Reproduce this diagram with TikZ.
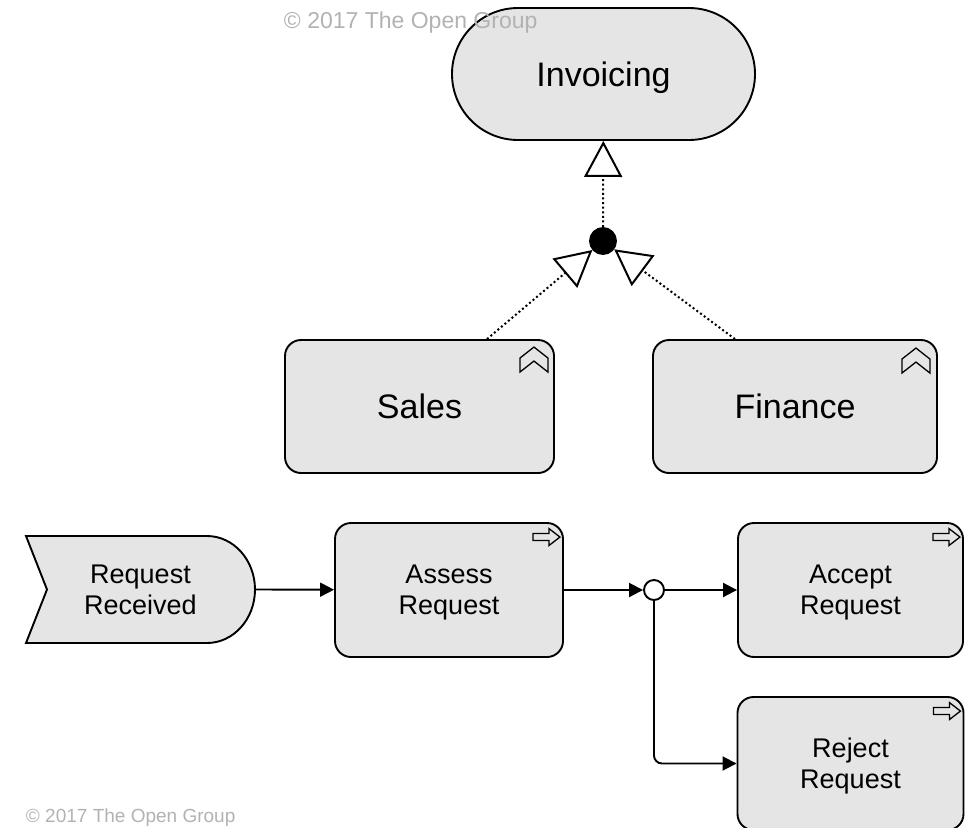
\documentclass[tikz,border=0pt]{standalone}
\usepackage{fontspec}
\setmainfont{Liberation Sans}
\usetikzlibrary{arrows.meta,shapes.misc,positioning}
\definecolor{boxgray}{RGB}{229,229,229}
\definecolor{cpgray}{RGB}{178,178,178}

\begin{document}
\begin{tikzpicture}[x=1pt,y=-1pt,line width=1.9pt,
  big/.style={font=\fontsize{34}{40}\selectfont,text depth=0pt},
  two/.style={font=\fontsize{27}{31}\selectfont,align=center,text depth=0pt},
  box/.style={draw,fill=boxgray,rounded corners=16pt,minimum height=133pt,inner sep=0pt},
  jn/.style={circle,draw,inner sep=0pt},
  real/.style={dash pattern=on 2pt off 2.6pt,line width=2pt,-{Triangle[open,length=36pt,width=38pt]}},
  flow/.style={-{Triangle[length=14pt,width=14pt]}},
  cp/.style={text=cpgray,inner sep=0pt,anchor=base west},
  fnicon/.pic={\draw[line width=1.3pt,line join=miter] (-14,0) -- (0,11) -- (0,25) -- (-14,14) -- (-28,25) -- (-28,11) -- cycle;},
  procicon/.pic={\draw[line width=1.3pt,line join=miter] (-27,-3.5) -- (-11,-3.5) -- (-11,-8.5) -- (0,0) -- (-11,8.5) -- (-11,3.5) -- (-27,3.5) -- cycle;}]
  \useasboundingbox (0,0) rectangle (974,827);

  % business functions
  \node[big,draw,fill=boxgray,rounded rectangle,minimum width=303pt,minimum height=132pt,inner sep=0pt] (inv) at (603.5,74) {Invoicing};
  \node[cp,font=\fontsize{23}{26}\selectfont] (cptop) at (283,28.5) {© 2017 The Open Group};
  \node[box,big,minimum width=269pt] (sales) at (419.5,406.5) {Sales};
  \node[box,big,minimum width=284pt] (fin) at (795,406.5) {Finance};
  \pic at ([xshift=-7pt,yshift=-8pt]sales.north east) {fnicon};
  \pic at ([xshift=-8pt,yshift=-9pt]fin.north east) {fnicon};

  % realization via and-junction
  \node[jn,fill=black,minimum size=26pt] (jand) at (603,241) {};
  \draw[real] (jand) -- (inv);
  \draw[real] ([xshift=67.5pt]sales.north) -- (jand);
  \draw[real] ([xshift=-60pt]fin.north) -- (jand);

  % event
  \draw[fill=boxgray] (26,536) -- (207,536) .. controls (233.5,536) and (255,560) .. (255,589.5)
    .. controls (255,619) and (233.5,643) .. (207,643) -- (26,643) -- (47,589.5) -- cycle;
  \node[two,minimum width=229pt,minimum height=107pt,inner sep=0pt] (rr) at (140.5,589.5) {Request\\Received};

  % processes
  \node[box,two,minimum width=228pt,minimum height=134pt] (assess) at (449,590) {Assess\\Request};
  \node[box,two,minimum width=225pt,minimum height=134pt] (acc) at (850.5,590) {Accept\\Request};
  \node[box,two,minimum width=226pt] (rej) at (850.5,763.5) {Reject\\Request};
  \pic at ([xshift=-4pt,yshift=-15pt]assess.north east) {procicon};
  \pic at ([xshift=-4pt,yshift=-15pt]acc.north east) {procicon};
  \pic at ([xshift=-4pt,yshift=-15pt]rej.north east) {procicon};

  % or-junction
  \node[jn,fill=white,minimum size=20pt] (jor) at (654,590) {};
  \draw[flow] (rr.east) -- (assess);
  \draw[flow] (assess) -- (jor);
  \draw[flow] (jor) -- (acc);
  \draw[flow,rounded corners=8pt] (jor.south) |- (rej.west);

  \node[cp,font=\fontsize{19}{22}\selectfont] (cpbot) at (25,822) {© 2017 The Open Group};
\end{tikzpicture}
\end{document}
